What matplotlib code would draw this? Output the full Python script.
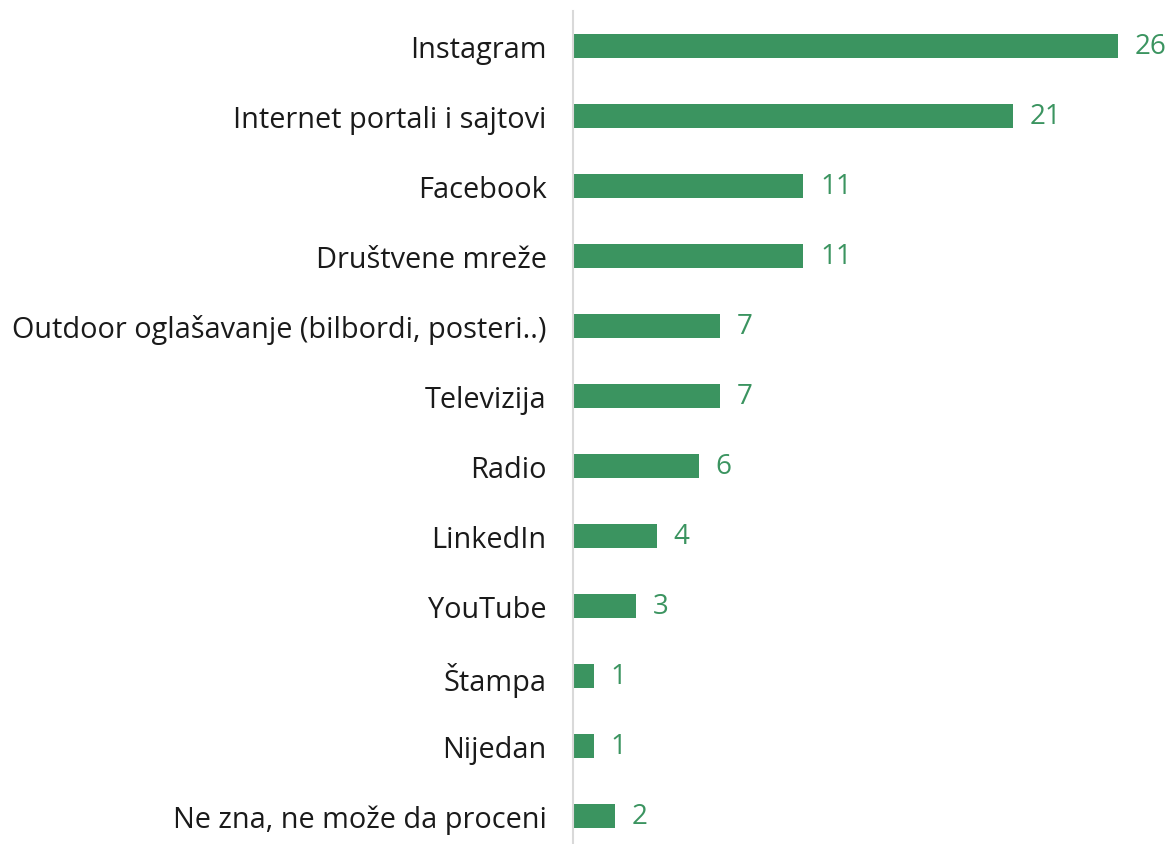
import matplotlib
matplotlib.use('Agg')
import matplotlib.pyplot as plt

categories = ['Instagram', 'Internet portali i sajtovi', 'Facebook', 'Društvene mreže',
              'Outdoor oglašavanje (bilbordi, posteri..)', 'Televizija', 'Radio',
              'LinkedIn', 'YouTube', 'Štampa', 'Nijedan', 'Ne zna, ne može da proceni']
values = [26, 21, 11, 11, 7, 7, 6, 4, 3, 1, 1, 2]

green = '#3b9460'
plt.rcParams['font.family'] = ['Open Sans', 'DejaVu Sans']

fig = plt.figure(figsize=(11.72, 8.45), dpi=100)
ax = fig.add_axes([573 / 1172, 0, 1 - 573 / 1172, 1 - 12 / 845])

ypos = list(range(len(categories)))
ax.barh(ypos, values, height=0.34, color=green)
for y, v in zip(ypos, values):
    ax.annotate(str(v), (v, y), xytext=(12, 0), textcoords='offset points',
                va='center', ha='left', color=green, fontsize=20)

ax.set_xlim(0, 28.6)
ax.set_ylim(11.4, -0.5)
ax.set_yticks(ypos)
ax.set_yticklabels(categories, fontsize=20.8, color='#1a1a1a')
ax.tick_params(axis='y', length=0, pad=19)
ax.set_xticks([])
for s in ['top', 'right', 'bottom']:
    ax.spines[s].set_visible(False)
ax.spines['left'].set_color('#d9d9d9')
ax.spines['left'].set_linewidth(1.5)

fig.savefig('out.png', dpi=100)
